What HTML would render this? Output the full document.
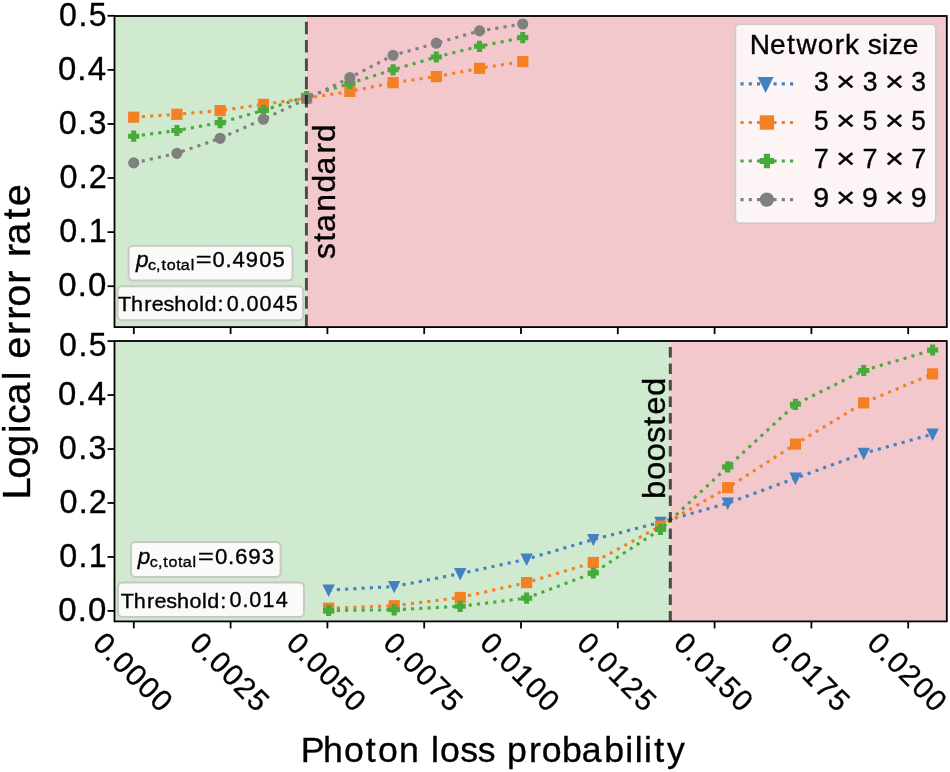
<!DOCTYPE html>
<html><head><meta charset="utf-8"><style>
html,body{margin:0;padding:0;background:#fff;overflow:hidden;}
svg{display:block;}
text{font-family:"Liberation Sans", sans-serif;stroke:#000;stroke-width:0.35px;paint-order:stroke;}
svg{will-change:transform;}
</style></head><body>
<svg width="950" height="772" viewBox="0 0 950 772">
<defs>
<clipPath id="clipT"><rect x="114.5" y="8.0" width="832.30" height="319.10"/></clipPath>
<clipPath id="clipB"><rect x="114.5" y="341.0" width="832.30" height="280.40"/></clipPath>
</defs>
<rect x="0" y="0" width="950" height="772" fill="#fff"/>
<rect x="114.5" y="16.0" width="191.90" height="311.10" fill="rgb(207,234,207)"/><rect x="306.4" y="16.0" width="640.40" height="311.10" fill="rgb(243,200,205)"/>
<g clip-path="url(#clipT)">
<polyline points="133.70,117.20 176.93,114.30 220.16,110.60 263.39,104.40 306.62,98.20 349.85,91.40 393.08,82.70 436.31,76.60 479.54,68.30 522.77,61.60" fill="none" stroke="rgb(244,128,36)" stroke-width="3.113" stroke-dasharray="3.113 5.136" stroke-linecap="butt" stroke-linejoin="round"/>
<rect x="129.10" y="112.60" width="9.20" height="9.20" fill="rgb(244,128,36)" stroke="rgb(244,128,36)" stroke-width="2.0"/>
<rect x="172.33" y="109.70" width="9.20" height="9.20" fill="rgb(244,128,36)" stroke="rgb(244,128,36)" stroke-width="2.0"/>
<rect x="215.56" y="106.00" width="9.20" height="9.20" fill="rgb(244,128,36)" stroke="rgb(244,128,36)" stroke-width="2.0"/>
<rect x="258.79" y="99.80" width="9.20" height="9.20" fill="rgb(244,128,36)" stroke="rgb(244,128,36)" stroke-width="2.0"/>
<rect x="302.02" y="93.60" width="9.20" height="9.20" fill="rgb(244,128,36)" stroke="rgb(244,128,36)" stroke-width="2.0"/>
<rect x="345.25" y="86.80" width="9.20" height="9.20" fill="rgb(244,128,36)" stroke="rgb(244,128,36)" stroke-width="2.0"/>
<rect x="388.48" y="78.10" width="9.20" height="9.20" fill="rgb(244,128,36)" stroke="rgb(244,128,36)" stroke-width="2.0"/>
<rect x="431.71" y="72.00" width="9.20" height="9.20" fill="rgb(244,128,36)" stroke="rgb(244,128,36)" stroke-width="2.0"/>
<rect x="474.94" y="63.70" width="9.20" height="9.20" fill="rgb(244,128,36)" stroke="rgb(244,128,36)" stroke-width="2.0"/>
<rect x="518.17" y="57.00" width="9.20" height="9.20" fill="rgb(244,128,36)" stroke="rgb(244,128,36)" stroke-width="2.0"/>
<polyline points="133.70,136.20 176.93,130.50 220.16,122.60 263.39,110.40 306.62,96.60 349.85,83.40 393.08,69.80 436.31,57.00 479.54,46.30 522.77,37.60" fill="none" stroke="rgb(72,170,58)" stroke-width="3.113" stroke-dasharray="3.113 5.136" stroke-linecap="butt" stroke-linejoin="round"/>
<polygon points="132.17,131.60 135.23,131.60 135.23,134.67 138.30,134.67 138.30,137.73 135.23,137.73 135.23,140.80 132.17,140.80 132.17,137.73 129.10,137.73 129.10,134.67 132.17,134.67" fill="rgb(72,170,58)" stroke="rgb(72,170,58)" stroke-width="2.0" stroke-linejoin="miter"/>
<polygon points="175.40,125.90 178.46,125.90 178.46,128.97 181.53,128.97 181.53,132.03 178.46,132.03 178.46,135.10 175.40,135.10 175.40,132.03 172.33,132.03 172.33,128.97 175.40,128.97" fill="rgb(72,170,58)" stroke="rgb(72,170,58)" stroke-width="2.0" stroke-linejoin="miter"/>
<polygon points="218.63,118.00 221.69,118.00 221.69,121.07 224.76,121.07 224.76,124.13 221.69,124.13 221.69,127.20 218.63,127.20 218.63,124.13 215.56,124.13 215.56,121.07 218.63,121.07" fill="rgb(72,170,58)" stroke="rgb(72,170,58)" stroke-width="2.0" stroke-linejoin="miter"/>
<polygon points="261.86,105.80 264.92,105.80 264.92,108.87 267.99,108.87 267.99,111.93 264.92,111.93 264.92,115.00 261.86,115.00 261.86,111.93 258.79,111.93 258.79,108.87 261.86,108.87" fill="rgb(72,170,58)" stroke="rgb(72,170,58)" stroke-width="2.0" stroke-linejoin="miter"/>
<polygon points="305.09,92.00 308.15,92.00 308.15,95.07 311.22,95.07 311.22,98.13 308.15,98.13 308.15,101.20 305.09,101.20 305.09,98.13 302.02,98.13 302.02,95.07 305.09,95.07" fill="rgb(72,170,58)" stroke="rgb(72,170,58)" stroke-width="2.0" stroke-linejoin="miter"/>
<polygon points="348.32,78.80 351.38,78.80 351.38,81.87 354.45,81.87 354.45,84.93 351.38,84.93 351.38,88.00 348.32,88.00 348.32,84.93 345.25,84.93 345.25,81.87 348.32,81.87" fill="rgb(72,170,58)" stroke="rgb(72,170,58)" stroke-width="2.0" stroke-linejoin="miter"/>
<polygon points="391.55,65.20 394.61,65.20 394.61,68.27 397.68,68.27 397.68,71.33 394.61,71.33 394.61,74.40 391.55,74.40 391.55,71.33 388.48,71.33 388.48,68.27 391.55,68.27" fill="rgb(72,170,58)" stroke="rgb(72,170,58)" stroke-width="2.0" stroke-linejoin="miter"/>
<polygon points="434.78,52.40 437.84,52.40 437.84,55.47 440.91,55.47 440.91,58.53 437.84,58.53 437.84,61.60 434.78,61.60 434.78,58.53 431.71,58.53 431.71,55.47 434.78,55.47" fill="rgb(72,170,58)" stroke="rgb(72,170,58)" stroke-width="2.0" stroke-linejoin="miter"/>
<polygon points="478.01,41.70 481.07,41.70 481.07,44.77 484.14,44.77 484.14,47.83 481.07,47.83 481.07,50.90 478.01,50.90 478.01,47.83 474.94,47.83 474.94,44.77 478.01,44.77" fill="rgb(72,170,58)" stroke="rgb(72,170,58)" stroke-width="2.0" stroke-linejoin="miter"/>
<polygon points="521.24,33.00 524.30,33.00 524.30,36.07 527.37,36.07 527.37,39.13 524.30,39.13 524.30,42.20 521.24,42.20 521.24,39.13 518.17,39.13 518.17,36.07 521.24,36.07" fill="rgb(72,170,58)" stroke="rgb(72,170,58)" stroke-width="2.0" stroke-linejoin="miter"/>
<polyline points="133.70,162.90 176.93,153.30 220.16,138.30 263.39,119.20 306.62,98.90 349.85,77.70 393.08,55.30 436.31,43.20 479.54,30.90 522.77,24.00" fill="none" stroke="rgb(128,128,128)" stroke-width="3.113" stroke-dasharray="3.113 5.136" stroke-linecap="butt" stroke-linejoin="round"/>
<circle cx="133.70" cy="162.90" r="4.60" fill="rgb(128,128,128)" stroke="rgb(128,128,128)" stroke-width="2.0"/>
<circle cx="176.93" cy="153.30" r="4.60" fill="rgb(128,128,128)" stroke="rgb(128,128,128)" stroke-width="2.0"/>
<circle cx="220.16" cy="138.30" r="4.60" fill="rgb(128,128,128)" stroke="rgb(128,128,128)" stroke-width="2.0"/>
<circle cx="263.39" cy="119.20" r="4.60" fill="rgb(128,128,128)" stroke="rgb(128,128,128)" stroke-width="2.0"/>
<circle cx="306.62" cy="98.90" r="4.60" fill="rgb(128,128,128)" stroke="rgb(128,128,128)" stroke-width="2.0"/>
<circle cx="349.85" cy="77.70" r="4.60" fill="rgb(128,128,128)" stroke="rgb(128,128,128)" stroke-width="2.0"/>
<circle cx="393.08" cy="55.30" r="4.60" fill="rgb(128,128,128)" stroke="rgb(128,128,128)" stroke-width="2.0"/>
<circle cx="436.31" cy="43.20" r="4.60" fill="rgb(128,128,128)" stroke="rgb(128,128,128)" stroke-width="2.0"/>
<circle cx="479.54" cy="30.90" r="4.60" fill="rgb(128,128,128)" stroke="rgb(128,128,128)" stroke-width="2.0"/>
<circle cx="522.77" cy="24.00" r="4.60" fill="rgb(128,128,128)" stroke="rgb(128,128,128)" stroke-width="2.0"/>
</g>
<line x1="306.4" y1="327.1" x2="306.4" y2="16.0" stroke="rgba(0,0,0,0.67)" stroke-width="2.9" stroke-dasharray="12.5 5.8"/>
<rect x="114.5" y="341.0" width="555.80" height="280.40" fill="rgb(207,234,207)"/><rect x="670.3" y="341.0" width="276.50" height="280.40" fill="rgb(243,200,205)"/>
<g clip-path="url(#clipB)">
<polyline points="328.60,590.10 394.20,586.50 460.20,573.60 526.60,559.20 593.30,539.50 660.50,522.30 727.70,503.20 795.50,478.20 863.70,453.30 932.60,434.20" fill="none" stroke="rgb(66,130,192)" stroke-width="3.113" stroke-dasharray="3.113 5.136" stroke-linecap="butt" stroke-linejoin="round"/>
<polygon points="324.00,585.50 333.20,585.50 328.60,594.70" fill="rgb(66,130,192)" stroke="rgb(66,130,192)" stroke-width="2.0" stroke-linejoin="miter"/>
<polygon points="389.60,581.90 398.80,581.90 394.20,591.10" fill="rgb(66,130,192)" stroke="rgb(66,130,192)" stroke-width="2.0" stroke-linejoin="miter"/>
<polygon points="455.60,569.00 464.80,569.00 460.20,578.20" fill="rgb(66,130,192)" stroke="rgb(66,130,192)" stroke-width="2.0" stroke-linejoin="miter"/>
<polygon points="522.00,554.60 531.20,554.60 526.60,563.80" fill="rgb(66,130,192)" stroke="rgb(66,130,192)" stroke-width="2.0" stroke-linejoin="miter"/>
<polygon points="588.70,534.90 597.90,534.90 593.30,544.10" fill="rgb(66,130,192)" stroke="rgb(66,130,192)" stroke-width="2.0" stroke-linejoin="miter"/>
<polygon points="655.90,517.70 665.10,517.70 660.50,526.90" fill="rgb(66,130,192)" stroke="rgb(66,130,192)" stroke-width="2.0" stroke-linejoin="miter"/>
<polygon points="723.10,498.60 732.30,498.60 727.70,507.80" fill="rgb(66,130,192)" stroke="rgb(66,130,192)" stroke-width="2.0" stroke-linejoin="miter"/>
<polygon points="790.90,473.60 800.10,473.60 795.50,482.80" fill="rgb(66,130,192)" stroke="rgb(66,130,192)" stroke-width="2.0" stroke-linejoin="miter"/>
<polygon points="859.10,448.70 868.30,448.70 863.70,457.90" fill="rgb(66,130,192)" stroke="rgb(66,130,192)" stroke-width="2.0" stroke-linejoin="miter"/>
<polygon points="928.00,429.60 937.20,429.60 932.60,438.80" fill="rgb(66,130,192)" stroke="rgb(66,130,192)" stroke-width="2.0" stroke-linejoin="miter"/>
<polyline points="328.60,608.30 394.20,605.70 460.20,597.50 526.60,582.60 593.30,562.50 660.50,526.10 727.70,487.70 795.50,444.10 863.70,402.90 932.60,373.90" fill="none" stroke="rgb(244,128,36)" stroke-width="3.113" stroke-dasharray="3.113 5.136" stroke-linecap="butt" stroke-linejoin="round"/>
<rect x="324.00" y="603.70" width="9.20" height="9.20" fill="rgb(244,128,36)" stroke="rgb(244,128,36)" stroke-width="2.0"/>
<rect x="389.60" y="601.10" width="9.20" height="9.20" fill="rgb(244,128,36)" stroke="rgb(244,128,36)" stroke-width="2.0"/>
<rect x="455.60" y="592.90" width="9.20" height="9.20" fill="rgb(244,128,36)" stroke="rgb(244,128,36)" stroke-width="2.0"/>
<rect x="522.00" y="578.00" width="9.20" height="9.20" fill="rgb(244,128,36)" stroke="rgb(244,128,36)" stroke-width="2.0"/>
<rect x="588.70" y="557.90" width="9.20" height="9.20" fill="rgb(244,128,36)" stroke="rgb(244,128,36)" stroke-width="2.0"/>
<rect x="655.90" y="521.50" width="9.20" height="9.20" fill="rgb(244,128,36)" stroke="rgb(244,128,36)" stroke-width="2.0"/>
<rect x="723.10" y="483.10" width="9.20" height="9.20" fill="rgb(244,128,36)" stroke="rgb(244,128,36)" stroke-width="2.0"/>
<rect x="790.90" y="439.50" width="9.20" height="9.20" fill="rgb(244,128,36)" stroke="rgb(244,128,36)" stroke-width="2.0"/>
<rect x="859.10" y="398.30" width="9.20" height="9.20" fill="rgb(244,128,36)" stroke="rgb(244,128,36)" stroke-width="2.0"/>
<rect x="928.00" y="369.30" width="9.20" height="9.20" fill="rgb(244,128,36)" stroke="rgb(244,128,36)" stroke-width="2.0"/>
<polyline points="328.60,610.50 394.20,609.80 460.20,606.30 526.60,598.10 593.30,573.00 660.50,529.40 727.70,466.90 795.50,404.30 863.70,370.50 932.60,350.00" fill="none" stroke="rgb(72,170,58)" stroke-width="3.113" stroke-dasharray="3.113 5.136" stroke-linecap="butt" stroke-linejoin="round"/>
<polygon points="327.07,605.90 330.13,605.90 330.13,608.97 333.20,608.97 333.20,612.03 330.13,612.03 330.13,615.10 327.07,615.10 327.07,612.03 324.00,612.03 324.00,608.97 327.07,608.97" fill="rgb(72,170,58)" stroke="rgb(72,170,58)" stroke-width="2.0" stroke-linejoin="miter"/>
<polygon points="392.67,605.20 395.73,605.20 395.73,608.27 398.80,608.27 398.80,611.33 395.73,611.33 395.73,614.40 392.67,614.40 392.67,611.33 389.60,611.33 389.60,608.27 392.67,608.27" fill="rgb(72,170,58)" stroke="rgb(72,170,58)" stroke-width="2.0" stroke-linejoin="miter"/>
<polygon points="458.67,601.70 461.73,601.70 461.73,604.77 464.80,604.77 464.80,607.83 461.73,607.83 461.73,610.90 458.67,610.90 458.67,607.83 455.60,607.83 455.60,604.77 458.67,604.77" fill="rgb(72,170,58)" stroke="rgb(72,170,58)" stroke-width="2.0" stroke-linejoin="miter"/>
<polygon points="525.07,593.50 528.13,593.50 528.13,596.57 531.20,596.57 531.20,599.63 528.13,599.63 528.13,602.70 525.07,602.70 525.07,599.63 522.00,599.63 522.00,596.57 525.07,596.57" fill="rgb(72,170,58)" stroke="rgb(72,170,58)" stroke-width="2.0" stroke-linejoin="miter"/>
<polygon points="591.77,568.40 594.83,568.40 594.83,571.47 597.90,571.47 597.90,574.53 594.83,574.53 594.83,577.60 591.77,577.60 591.77,574.53 588.70,574.53 588.70,571.47 591.77,571.47" fill="rgb(72,170,58)" stroke="rgb(72,170,58)" stroke-width="2.0" stroke-linejoin="miter"/>
<polygon points="658.97,524.80 662.03,524.80 662.03,527.87 665.10,527.87 665.10,530.93 662.03,530.93 662.03,534.00 658.97,534.00 658.97,530.93 655.90,530.93 655.90,527.87 658.97,527.87" fill="rgb(72,170,58)" stroke="rgb(72,170,58)" stroke-width="2.0" stroke-linejoin="miter"/>
<polygon points="726.17,462.30 729.23,462.30 729.23,465.37 732.30,465.37 732.30,468.43 729.23,468.43 729.23,471.50 726.17,471.50 726.17,468.43 723.10,468.43 723.10,465.37 726.17,465.37" fill="rgb(72,170,58)" stroke="rgb(72,170,58)" stroke-width="2.0" stroke-linejoin="miter"/>
<polygon points="793.97,399.70 797.03,399.70 797.03,402.77 800.10,402.77 800.10,405.83 797.03,405.83 797.03,408.90 793.97,408.90 793.97,405.83 790.90,405.83 790.90,402.77 793.97,402.77" fill="rgb(72,170,58)" stroke="rgb(72,170,58)" stroke-width="2.0" stroke-linejoin="miter"/>
<polygon points="862.17,365.90 865.23,365.90 865.23,368.97 868.30,368.97 868.30,372.03 865.23,372.03 865.23,375.10 862.17,375.10 862.17,372.03 859.10,372.03 859.10,368.97 862.17,368.97" fill="rgb(72,170,58)" stroke="rgb(72,170,58)" stroke-width="2.0" stroke-linejoin="miter"/>
<polygon points="931.07,345.40 934.13,345.40 934.13,348.47 937.20,348.47 937.20,351.53 934.13,351.53 934.13,354.60 931.07,354.60 931.07,351.53 928.00,351.53 928.00,348.47 931.07,348.47" fill="rgb(72,170,58)" stroke="rgb(72,170,58)" stroke-width="2.0" stroke-linejoin="miter"/>
</g>
<line x1="670.3" y1="621.4" x2="670.3" y2="341.0" stroke="rgba(0,0,0,0.67)" stroke-width="3.0" stroke-dasharray="10.5 6.0"/>
<text transform="translate(335.20,259.10) rotate(-90) scale(0.9893,1)" x="0.19 17.55 27.50 47.95 67.23 85.50 106.64 118.36" y="0" font-size="32.18" fill="#000">standard</text>
<text transform="translate(665.20,499.60) rotate(-90) scale(1.0245,1)" x="0.67 19.06 37.28 55.24 72.11 82.78 101.15" y="0" font-size="32.18" fill="#000">boosted</text>
<rect x="128.60" y="245.80" width="163.90" height="34.80" rx="4.5" ry="4.5" fill="rgb(250,250,248)" stroke="rgb(200,200,200)" stroke-width="2.0"/>
<rect x="117.60" y="286.30" width="185.60" height="33.90" rx="4.5" ry="4.5" fill="rgb(250,250,248)" stroke="rgb(200,200,200)" stroke-width="2.0"/>
<rect x="131.00" y="542.10" width="149.60" height="34.80" rx="4.5" ry="4.5" fill="rgb(250,250,248)" stroke="rgb(200,200,200)" stroke-width="2.0"/>
<rect x="118.00" y="582.50" width="186.00" height="34.50" rx="4.5" ry="4.5" fill="rgb(250,250,248)" stroke="rgb(200,200,200)" stroke-width="2.0"/>
<text transform="translate(135.46,267.30) scale(1.0221,1)" x="0.49" y="0" font-size="22.15" font-style="italic" fill="#000">p</text>
<text transform="translate(148.09,270.20) scale(1.0357,1)" x="-0.15 7.76 12.90 17.91 27.15 31.62 41.08" y="0" font-size="15.51" fill="#000">c,total</text>
<text transform="translate(194.97,267.30) scale(1.2209,1)" x="0.74" y="0" font-size="22.15" fill="#000">=</text>
<text transform="translate(211.91,267.30) scale(0.9954,1)" x="0.55 13.69 20.67 34.03 47.52 60.86" y="0" font-size="22.15" fill="#000">0.4905</text>
<text transform="translate(137.36,563.60) scale(1.0221,1)" x="0.49" y="0" font-size="22.15" font-style="italic" fill="#000">p</text>
<text transform="translate(149.89,566.70) scale(1.0357,1)" x="-0.15 7.76 12.90 17.91 27.15 31.62 41.08" y="0" font-size="15.51" fill="#000">c,total</text>
<text transform="translate(197.17,563.60) scale(1.2209,1)" x="0.74" y="0" font-size="22.15" fill="#000">=</text>
<text transform="translate(214.51,563.60) scale(1.0065,1)" x="0.48 13.50 20.38 33.58 46.95" y="0" font-size="22.15" fill="#000">0.693</text>
<text transform="translate(118.46,311.40) scale(1.0227,1)" x="-0.46 12.30 25.22 32.57 43.93 54.52 66.68 78.90 84.18 96.74" y="0" font-size="21.10" fill="#000">Threshold:</text>
<text transform="translate(226.13,311.20) scale(0.9894,1)" x="0.58 13.59 20.54 33.85 47.16 60.39" y="0" font-size="21.84" fill="#000">0.0045</text>
<text transform="translate(121.26,607.60) scale(1.0227,1)" x="-0.46 12.30 25.22 32.57 43.93 54.52 66.68 78.90 84.18 96.74" y="0" font-size="21.10" fill="#000">Threshold:</text>
<text transform="translate(229.03,607.20) scale(0.9903,1)" x="0.58 13.58 20.52 33.71 47.11" y="0" font-size="21.84" fill="#000">0.014</text>
<rect x="735.3" y="24.2" width="200.6" height="198.9" rx="4.5" ry="4.5" fill="rgba(255,255,255,0.8)" stroke="rgb(204,204,204)" stroke-width="1.8"/>
<text transform="translate(750.03,53.90) scale(1.0155,1)" x="-0.34 19.60 36.32 45.85 66.60 83.37 93.54 107.36 115.91 129.88 136.52 150.38" y="0" font-size="27.64" fill="#000">Network size</text>
<line x1="740.5" y1="83.9" x2="793.5" y2="83.9" stroke="rgb(66,130,192)" stroke-width="3.1" stroke-dasharray="3.113 5.137"/>
<polygon points="759.20,78.00 772.00,78.00 765.60,90.80" fill="rgb(66,130,192)" stroke="rgb(66,130,192)" stroke-width="2.0" stroke-linejoin="miter"/>
<text transform="translate(813.00,91.20) scale(0.9599,1)" x="1.02" y="0" font-size="27.64" fill="#000">3</text>
<text transform="translate(861.70,91.20) scale(0.9599,1)" x="1.02" y="0" font-size="27.64" fill="#000">3</text>
<text transform="translate(910.40,91.20) scale(0.9599,1)" x="1.02" y="0" font-size="27.64" fill="#000">3</text>
<text transform="translate(834.71,91.20) scale(1.1992,1)" x="1.08" y="0" font-size="27.64" fill="#000">×</text>
<text transform="translate(883.41,91.20) scale(1.1992,1)" x="1.08" y="0" font-size="27.64" fill="#000">×</text>
<line x1="740.5" y1="122.5" x2="793.5" y2="122.5" stroke="rgb(244,128,36)" stroke-width="3.1" stroke-dasharray="3.113 5.137"/>
<rect x="760.70" y="116.30" width="12.40" height="12.40" fill="rgb(244,128,36)" stroke="rgb(244,128,36)" stroke-width="2.0"/>
<text transform="translate(813.00,129.80) scale(0.9439,1)" x="1.03" y="0" font-size="27.64" fill="#000">5</text>
<text transform="translate(861.70,129.80) scale(0.9439,1)" x="1.03" y="0" font-size="27.64" fill="#000">5</text>
<text transform="translate(910.40,129.80) scale(0.9439,1)" x="1.03" y="0" font-size="27.64" fill="#000">5</text>
<text transform="translate(834.71,129.80) scale(1.1992,1)" x="1.08" y="0" font-size="27.64" fill="#000">×</text>
<text transform="translate(883.41,129.80) scale(1.1992,1)" x="1.08" y="0" font-size="27.64" fill="#000">×</text>
<line x1="740.5" y1="161.0" x2="793.5" y2="161.0" stroke="rgb(72,170,58)" stroke-width="3.1" stroke-dasharray="3.113 5.137"/>
<polygon points="764.83,154.80 768.97,154.80 768.97,158.93 773.10,158.93 773.10,163.07 768.97,163.07 768.97,167.20 764.83,167.20 764.83,163.07 760.70,163.07 760.70,158.93 764.83,158.93" fill="rgb(72,170,58)" stroke="rgb(72,170,58)" stroke-width="2.0" stroke-linejoin="miter"/>
<text transform="translate(813.00,168.30) scale(0.9770,1)" x="0.79" y="0" font-size="27.64" fill="#000">7</text>
<text transform="translate(861.70,168.30) scale(0.9770,1)" x="0.79" y="0" font-size="27.64" fill="#000">7</text>
<text transform="translate(910.40,168.30) scale(0.9770,1)" x="0.79" y="0" font-size="27.64" fill="#000">7</text>
<text transform="translate(834.71,168.30) scale(1.1992,1)" x="1.08" y="0" font-size="27.64" fill="#000">×</text>
<text transform="translate(883.41,168.30) scale(1.1992,1)" x="1.08" y="0" font-size="27.64" fill="#000">×</text>
<line x1="740.5" y1="199.6" x2="793.5" y2="199.6" stroke="rgb(128,128,128)" stroke-width="3.1" stroke-dasharray="3.113 5.137"/>
<circle cx="766.90" cy="199.60" r="6.20" fill="rgb(128,128,128)" stroke="rgb(128,128,128)" stroke-width="2.0"/>
<text transform="translate(813.00,206.90) scale(1.0320,1)" x="0.30" y="0" font-size="27.64" fill="#000">9</text>
<text transform="translate(861.70,206.90) scale(1.0320,1)" x="0.30" y="0" font-size="27.64" fill="#000">9</text>
<text transform="translate(910.40,206.90) scale(1.0320,1)" x="0.30" y="0" font-size="27.64" fill="#000">9</text>
<text transform="translate(834.71,206.90) scale(1.1992,1)" x="1.08" y="0" font-size="27.64" fill="#000">×</text>
<text transform="translate(883.41,206.90) scale(1.1992,1)" x="1.08" y="0" font-size="27.64" fill="#000">×</text>
<rect x="114.5" y="16.0" width="832.30" height="311.10" fill="none" stroke="#000" stroke-width="1.8"/>
<rect x="114.5" y="341.0" width="832.30" height="280.40" fill="none" stroke="#000" stroke-width="1.8"/>
<line x1="133.80" y1="327.1" x2="133.80" y2="334.1" stroke="#000" stroke-width="1.8"/>
<line x1="133.80" y1="621.4" x2="133.80" y2="628.4" stroke="#000" stroke-width="1.8"/>
<line x1="230.60" y1="327.1" x2="230.60" y2="334.1" stroke="#000" stroke-width="1.8"/>
<line x1="230.60" y1="621.4" x2="230.60" y2="628.4" stroke="#000" stroke-width="1.8"/>
<line x1="327.40" y1="327.1" x2="327.40" y2="334.1" stroke="#000" stroke-width="1.8"/>
<line x1="327.40" y1="621.4" x2="327.40" y2="628.4" stroke="#000" stroke-width="1.8"/>
<line x1="424.20" y1="327.1" x2="424.20" y2="334.1" stroke="#000" stroke-width="1.8"/>
<line x1="424.20" y1="621.4" x2="424.20" y2="628.4" stroke="#000" stroke-width="1.8"/>
<line x1="521.00" y1="327.1" x2="521.00" y2="334.1" stroke="#000" stroke-width="1.8"/>
<line x1="521.00" y1="621.4" x2="521.00" y2="628.4" stroke="#000" stroke-width="1.8"/>
<line x1="617.80" y1="327.1" x2="617.80" y2="334.1" stroke="#000" stroke-width="1.8"/>
<line x1="617.80" y1="621.4" x2="617.80" y2="628.4" stroke="#000" stroke-width="1.8"/>
<line x1="714.60" y1="327.1" x2="714.60" y2="334.1" stroke="#000" stroke-width="1.8"/>
<line x1="714.60" y1="621.4" x2="714.60" y2="628.4" stroke="#000" stroke-width="1.8"/>
<line x1="811.40" y1="327.1" x2="811.40" y2="334.1" stroke="#000" stroke-width="1.8"/>
<line x1="811.40" y1="621.4" x2="811.40" y2="628.4" stroke="#000" stroke-width="1.8"/>
<line x1="908.20" y1="327.1" x2="908.20" y2="334.1" stroke="#000" stroke-width="1.8"/>
<line x1="908.20" y1="621.4" x2="908.20" y2="628.4" stroke="#000" stroke-width="1.8"/>
<line x1="107.5" y1="15.80" x2="114.5" y2="15.80" stroke="#000" stroke-width="1.8"/>
<text transform="translate(58.11,25.80) scale(0.9759,1)" x="1.02 20.83 31.39" y="0" font-size="32.92" fill="#000">0.5</text>
<line x1="107.5" y1="341.10" x2="114.5" y2="341.10" stroke="#000" stroke-width="1.8"/>
<text transform="translate(58.11,355.60) scale(0.9759,1)" x="1.02 20.83 31.39" y="0" font-size="32.92" fill="#000">0.5</text>
<line x1="107.5" y1="69.88" x2="114.5" y2="69.88" stroke="#000" stroke-width="1.8"/>
<text transform="translate(57.14,79.88) scale(1.0006,1)" x="0.76 20.20 30.50" y="0" font-size="32.92" fill="#000">0.4</text>
<line x1="107.5" y1="395.06" x2="114.5" y2="395.06" stroke="#000" stroke-width="1.8"/>
<text transform="translate(57.14,405.06) scale(1.0006,1)" x="0.76 20.20 30.50" y="0" font-size="32.92" fill="#000">0.4</text>
<line x1="107.5" y1="123.96" x2="114.5" y2="123.96" stroke="#000" stroke-width="1.8"/>
<text transform="translate(57.89,133.96) scale(0.9831,1)" x="0.94 20.65 31.26" y="0" font-size="32.92" fill="#000">0.3</text>
<line x1="107.5" y1="449.02" x2="114.5" y2="449.02" stroke="#000" stroke-width="1.8"/>
<text transform="translate(57.89,459.02) scale(0.9831,1)" x="0.94 20.65 31.26" y="0" font-size="32.92" fill="#000">0.3</text>
<line x1="107.5" y1="178.04" x2="114.5" y2="178.04" stroke="#000" stroke-width="1.8"/>
<text transform="translate(58.51,188.04) scale(0.9847,1)" x="0.93 20.61 30.73" y="0" font-size="32.92" fill="#000">0.2</text>
<line x1="107.5" y1="502.98" x2="114.5" y2="502.98" stroke="#000" stroke-width="1.8"/>
<text transform="translate(58.51,512.98) scale(0.9847,1)" x="0.93 20.61 30.73" y="0" font-size="32.92" fill="#000">0.2</text>
<line x1="107.5" y1="232.12" x2="114.5" y2="232.12" stroke="#000" stroke-width="1.8"/>
<text transform="translate(58.26,242.12) scale(0.9818,1)" x="0.95 20.68 31.12" y="0" font-size="32.92" fill="#000">0.1</text>
<line x1="107.5" y1="556.94" x2="114.5" y2="556.94" stroke="#000" stroke-width="1.8"/>
<text transform="translate(58.26,566.94) scale(0.9818,1)" x="0.95 20.68 31.12" y="0" font-size="32.92" fill="#000">0.1</text>
<line x1="107.5" y1="286.20" x2="114.5" y2="286.20" stroke="#000" stroke-width="1.8"/>
<text transform="translate(57.45,296.20) scale(1.0010,1)" x="0.76 20.19 30.50" y="0" font-size="32.92" fill="#000">0.0</text>
<line x1="107.5" y1="610.90" x2="114.5" y2="610.90" stroke="#000" stroke-width="1.8"/>
<text transform="translate(57.45,620.90) scale(1.0010,1)" x="0.76 20.19 30.50" y="0" font-size="32.92" fill="#000">0.0</text>
<text transform="translate(90.80,644.20) rotate(45) scale(1.0001,1)" x="0.70 18.27 27.60 45.54 63.48 81.42" y="0" font-size="29.75" fill="#000">0.0000</text>
<text transform="translate(187.60,644.20) rotate(45) scale(0.9825,1)" x="0.86 18.67 28.24 46.50 64.37 82.91" y="0" font-size="29.75" fill="#000">0.0025</text>
<text transform="translate(284.40,644.20) rotate(45) scale(0.9895,1)" x="0.79 18.51 27.98 46.12 64.14 82.38" y="0" font-size="29.75" fill="#000">0.0050</text>
<text transform="translate(381.20,644.20) rotate(45) scale(0.9853,1)" x="0.83 18.61 28.14 46.35 64.50 82.66" y="0" font-size="29.75" fill="#000">0.0075</text>
<text transform="translate(478.00,644.20) rotate(45) scale(0.9922,1)" x="0.77 18.45 27.89 45.82 64.05 82.14" y="0" font-size="29.75" fill="#000">0.0100</text>
<text transform="translate(574.80,644.20) rotate(45) scale(0.9742,1)" x="0.93 18.87 28.55 46.83 65.00 83.69" y="0" font-size="29.75" fill="#000">0.0125</text>
<text transform="translate(671.60,644.20) rotate(45) scale(0.9813,1)" x="0.87 18.70 28.28 46.42 64.74 83.13" y="0" font-size="29.75" fill="#000">0.0150</text>
<text transform="translate(768.40,644.20) rotate(45) scale(0.9769,1)" x="0.91 18.80 28.45 46.67 65.12 83.43" y="0" font-size="29.75" fill="#000">0.0175</text>
<text transform="translate(865.20,644.20) rotate(45) scale(0.9933,1)" x="0.76 18.43 27.85 45.53 63.97 82.04" y="0" font-size="29.75" fill="#000">0.0200</text>
<text transform="translate(29.90,499.40) rotate(-90) scale(1.0235,1)" x="-0.06 20.19 41.69 64.73 73.76 92.58 116.39 124.99 137.40 160.73 175.47 188.19 210.73 223.63 236.87 248.87 273.53 286.38" y="0" font-size="38.72" fill="#000">Logical error rate</text>
<text transform="translate(302.00,762.30) scale(1.0032,1)" x="-1.17 21.05 41.95 63.65 75.67 96.68 116.45 128.52 137.53 157.77 175.27 193.05 204.36 226.33 238.90 259.29 278.79 301.20 322.27 331.61 340.94 351.10 363.76" y="0" font-size="35.55" fill="#000">Photon loss probability</text>
</svg>
</body></html>
